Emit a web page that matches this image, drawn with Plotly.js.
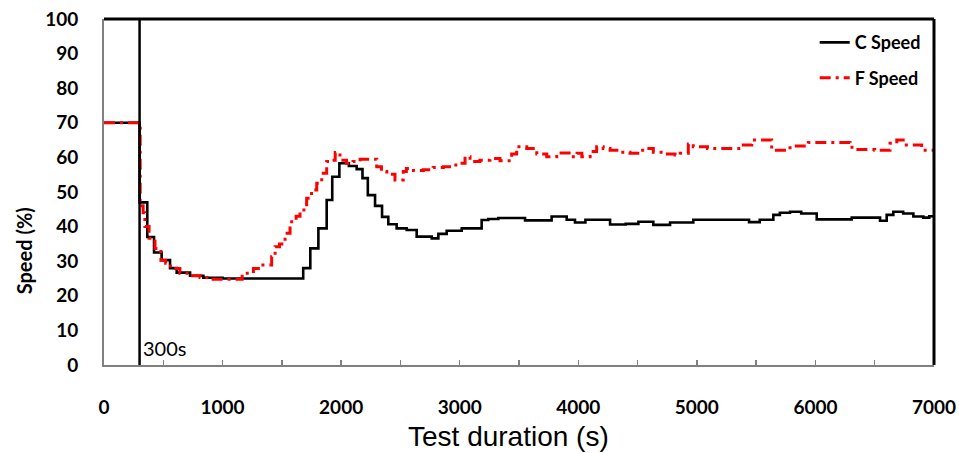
<!DOCTYPE html>
<html>
<head>
<meta charset="utf-8">
<script src="https://cdn.plot.ly/plotly-3.0.1.min.js"></script>
<style>html,body{margin:0;padding:0;background:#fff;}#chart{width:959px;height:453px;}</style>
</head>
<body>
<div id="chart"></div>
<script>
// C Speed (black solid, stepped)
const cTime  = [0, 300, 365, 422, 486, 557, 613, 726, 838, 1000, 1680, 1740, 1808, 1878, 1925, 1985, 2065, 2131, 2180, 2225, 2286, 2345, 2398, 2468, 2553, 2637, 2764, 2820, 2890, 3017, 3185, 3241, 3325, 3551, 3775, 3902, 3972, 4060, 4268, 4400, 4507, 4633, 4774, 4970, 5420, 5440, 5530, 5645, 5700, 5786, 5880, 6011, 6306, 6460, 6545, 6601, 6657, 6740, 6826, 6910, 6960, 7000];
const cSpeed = [70, 47, 37, 32.5, 30.3, 28, 26.7, 25.8, 25.2, 25, 28, 33.7, 39.5, 47.7, 54.4, 58.3, 57.5, 56.6, 54, 49.1, 46, 42.8, 40.7, 39.5, 39, 37.1, 36.6, 37.9, 38.8, 39.5, 41.9, 42.2, 42.5, 41.8, 42.9, 42, 41.2, 42, 40.6, 40.8, 41.4, 40.5, 41.2, 42, 42, 41.3, 42, 43.4, 44, 44.3, 43.8, 42.1, 42.6, 42.6, 41.7, 43.4, 44.3, 43.8, 42.9, 42.6, 43, 43];

// F Speed (red dash-dot, stepped)
const fTime  = [0, 305, 330, 345, 380, 430, 480, 520, 560, 640, 730, 810, 900, 1165, 1260, 1320, 1414, 1443, 1480, 1527, 1569, 1620, 1653, 1709, 1750, 1794, 1836, 1878, 1910, 1950, 1990, 2045, 2100, 2160, 2300, 2340, 2385, 2454, 2524, 2550, 2610, 2693, 2776, 2862, 2932, 3000, 3045, 3087, 3170, 3255, 3340, 3438, 3480, 3565, 3650, 3734, 3818, 3958, 3990, 4030, 4100, 4155, 4210, 4268, 4350, 4436, 4520, 4580, 4633, 4720, 4816, 4860, 4928, 4970, 5090, 5378, 5463, 5631, 5786, 5940, 6180, 6292, 6340, 6500, 6629, 6686, 6740, 6896, 7000];
const fSpeed = [70, 46, 44, 40, 36.6, 33.7, 30.3, 29.4, 27.9, 26.5, 25.8, 25.3, 24.8, 26.5, 27.9, 28.9, 31.3, 34.2, 35, 38.1, 41.4, 43, 44.8, 48.2, 50.6, 52.5, 55.4, 58.8, 59.2, 61.4, 59.2, 58.3, 58.8, 59.5, 57.3, 55.9, 55.1, 53.5, 55.9, 56.8, 56.2, 56.4, 57.1, 57.3, 57.8, 58.3, 60.2, 58.8, 59.2, 59.7, 59, 61, 63.1, 62.6, 61, 60.2, 61.3, 60.2, 61.2, 60.2, 61.7, 63.1, 62.6, 62.1, 61.5, 61.2, 62.1, 62.6, 61.5, 61, 60.7, 61.2, 63.9, 63.1, 62.6, 63.6, 65, 62.1, 63.3, 64.3, 64.3, 62.9, 62.3, 62.1, 64.1, 65, 63.6, 62.1, 62.1];

const seriesNames = ['C Speed', 'F Speed'];
const markerTime = 300;
const markerLabel = '300s';
const xTicks = [0, 1000, 2000, 3000, 4000, 5000, 6000, 7000];
const yTicks = [0, 10, 20, 30, 40, 50, 60, 70, 80, 90, 100];

const boldFont = 'Lato, "Open Sans", sans-serif';

const traces = [
  {x: cTime, y: cSpeed, name: seriesNames[0], type: 'scatter', mode: 'lines',
   line: {shape: 'hv', color: '#000000', width: 2.6}, legendgroup: 'c'},
  {x: fTime, y: fSpeed, name: seriesNames[1], type: 'scatter', mode: 'lines',
   line: {shape: 'hv', color: '#ff0000', width: 3, dash: '11px,5px,3px,5px'}, legendgroup: 'f'}
];

const layout = {
  width: 959, height: 453,
  margin: {l: 104, r: 25, t: 19, b: 88},
  paper_bgcolor: '#ffffff', plot_bgcolor: '#ffffff',
  showlegend: true,
  legend: {x: 0.99, xanchor: 'right', y: 0.985, yanchor: 'top', bgcolor: 'rgba(0,0,0,0)',
           font: {family: boldFont, size: 18, color: '#000', weight: 'bold'},
           traceorder: 'grouped', tracegroupgap: 9},
  xaxis: {range: [0, 7000], tickvals: xTicks, ticktext: xTicks.map(String),
          showgrid: false, zeroline: false, showline: true, linecolor: '#808080', linewidth: 2,
          ticks: 'inside', ticklen: 5, tickcolor: '#808080', tickwidth: 1.5,
          minor: {dtick: 500, tick0: 0, ticks: 'inside', ticklen: 5, tickcolor: '#808080', tickwidth: 1.5, showgrid: false},
          ticklabelstandoff: 24,
          tickfont: {family: boldFont, size: 19, color: '#000', weight: 'bold'}},
  yaxis: {range: [0, 100], tickvals: yTicks, ticktext: yTicks.map(String),
          showgrid: false, zeroline: false, showline: true, linecolor: '#808080', linewidth: 2,
          ticks: '', ticklabelstandoff: 20,
          tickfont: {family: boldFont, size: 19, color: '#000', weight: 'bold'}},
  shapes: [
    {type: 'line', xref: 'paper', yref: 'paper', x0: 0, x1: 1, y0: 1, y1: 1, line: {color: '#000', width: 3}},
    {type: 'line', xref: 'paper', yref: 'paper', x0: 1, x1: 1, y0: 0, y1: 1, line: {color: '#000', width: 3}},
    {type: 'line', xref: 'x', yref: 'paper', x0: markerTime, x1: markerTime, y0: 0, y1: 1, line: {color: '#000', width: 2.5}}
  ],
  annotations: [
    {text: markerLabel, x: markerTime, xref: 'x', xanchor: 'left', xshift: 1, y: 0.049, yref: 'paper', yanchor: 'middle',
     showarrow: false, font: {family: boldFont, size: 20, color: '#000'}},
    {text: 'Test duration (s)', x: 0.487, xref: 'paper', xanchor: 'center', y: -0.208, yref: 'paper', yanchor: 'middle',
     showarrow: false, font: {family: '"Liberation Sans", Arial, sans-serif', size: 28, color: '#000'}},
    {text: 'Speed (%)', x: -0.097, xref: 'paper', xanchor: 'center', y: 0.33, yref: 'paper', yanchor: 'middle',
     textangle: -90, showarrow: false, font: {family: boldFont, size: 20, color: '#000', weight: 'bold'}}
  ]
};

Plotly.newPlot('chart', traces, layout, {displayModeBar: false, staticPlot: true});
</script>
</body>
</html>
